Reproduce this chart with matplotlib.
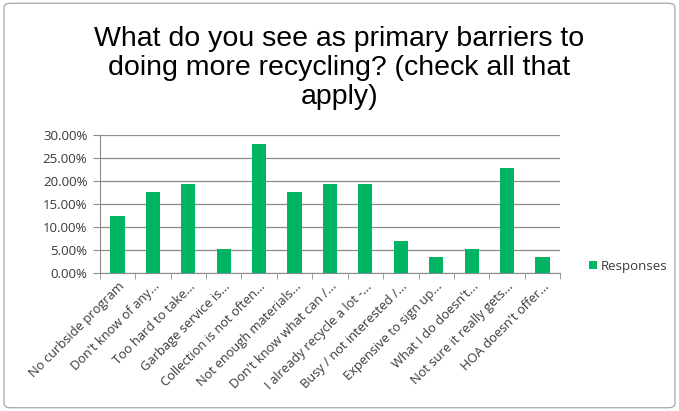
#!/usr/bin/env python3
"""Survey bar chart: primary barriers to doing more recycling."""

import matplotlib
matplotlib.use("Agg")
import matplotlib.pyplot as plt
from matplotlib.patches import FancyBboxPatch
from matplotlib.ticker import FixedLocator, PercentFormatter

categories = [
    "No curbside program",
    "Don't know of any...",
    "Too hard to take...",
    "Garbage service is...",
    "Collection is not often...",
    "Not enough materials...",
    "Don't know what can /...",
    "I already recycle a lot -...",
    "Busy / not interested /...",
    "Expensive to sign up...",
    "What I do doesn't...",
    "Not sure it really gets...",
    "HOA doesn't offer...",
]
responses = [12.28, 17.54, 19.30, 5.26, 28.07, 17.54, 19.30, 19.30, 7.02, 3.51, 5.26, 22.81, 3.51]
y_ticks = [0, 5, 10, 15, 20, 25, 30]

GREEN = "#00b464"
TEXT = "#3a3a3a"
GRID = "#8c8c8c"

fig = plt.figure(figsize=(6.79, 4.11), dpi=100)
fig.patches.append(
    FancyBboxPatch((0.006, 0.008), 0.988, 0.984, boxstyle="round,pad=0,rounding_size=0.01",
                   transform=fig.transFigure, facecolor="white", edgecolor="#b0b0b0",
                   linewidth=1.0, zorder=-1)
)

ax = fig.add_axes([0.147, 0.336, 0.678, 0.336])
x = range(len(categories))
ax.bar(x, responses, width=0.4, color=GREEN, label="Responses", zorder=3)

ax.set_ylim(0, 30)
ax.set_xlim(-0.5, len(categories) - 0.5)
ax.set_yticks(y_ticks)
ax.yaxis.set_major_formatter(PercentFormatter(decimals=2))
ax.grid(axis="y", color=GRID, linewidth=0.9, zorder=0)
ax.tick_params(axis="y", length=5, color=GRID, labelsize=9.5, labelcolor=TEXT, pad=4)

ax.set_xticks(list(x))
ax.set_xticklabels(categories, rotation=45, ha="right", rotation_mode="anchor",
                   fontsize=9.3, color=TEXT)
ax.tick_params(axis="x", which="major", length=0, pad=5)
ax.xaxis.set_minor_locator(FixedLocator([i - 0.5 for i in range(len(categories) + 1)]))
ax.tick_params(axis="x", which="minor", length=4, color=GRID)

for side in ("top", "right"):
    ax.spines[side].set_visible(False)
ax.spines["left"].set_color(GRID)
ax.spines["bottom"].set_color(GRID)

for lbl in ax.get_yticklabels() + ax.get_xticklabels():
    lbl.set_family("Open Sans")

fig.text(0.5, 0.835, "What do you see as primary barriers to\ndoing more recycling? (check all that\napply)",
         ha="center", va="center", fontsize=20.5, family="Liberation Sans",
         linespacing=1.14, color="black")

fig.legend(loc="center left", bbox_to_anchor=(0.85, 0.352), frameon=False,
           prop={"family": "Open Sans", "size": 9.5}, handlelength=0.6, handleheight=0.6,
           handletextpad=0.3, labelcolor=TEXT)

fig.savefig("out.png", dpi=100)
